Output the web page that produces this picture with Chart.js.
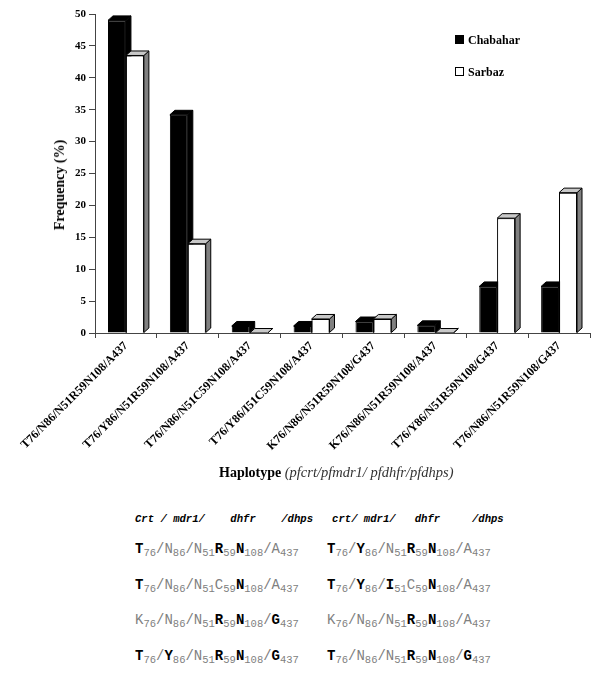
<!DOCTYPE html>
<html><head><meta charset="utf-8">
<script src="https://cdn.jsdelivr.net/npm/chart.js@4.4.0/dist/chart.umd.min.js"></script>
<style>
html,body{margin:0;padding:0;background:#fff;}
#wrap{position:relative;width:600px;height:676px;overflow:hidden;background:#fff;}
#c{position:absolute;left:0;top:0;}
#ytitle{position:absolute;left:60px;top:185px;transform:translate(-50%,-50%) rotate(-90deg);font:bold 14px "Liberation Serif",serif;white-space:nowrap;color:#000;}
.leg{position:absolute;left:455px;font:bold 12px "Liberation Serif",serif;color:#000;white-space:nowrap;}
.leg i{display:inline-block;width:7px;height:7px;border:1px solid #000;margin-right:4px;vertical-align:0px;}
#xtitle{position:absolute;left:219px;top:464px;font:14px "Liberation Serif",serif;white-space:nowrap;color:#000;}
#xtitle b{font-weight:bold;}
#xtitle i{font-style:italic;color:#333;font-size:14.5px;}
.hdr{position:absolute;left:135px;top:513px;font:italic bold 10.6px "Liberation Mono",monospace;white-space:pre;color:#000;}
.hap{position:absolute;font:14px "Liberation Mono",monospace;color:#808080;white-space:pre;line-height:16px;}
.hap b{color:#000;font-weight:bold;}
.hap sub{font-size:10.5px;vertical-align:-3px;line-height:0;}
</style></head><body>
<div id="wrap">
<canvas id="c" width="600" height="480"></canvas>
<div id="ytitle">Frequency (%)</div>
<div class="leg" style="top:33px"><i style="background:#000"></i>Chabahar</div>
<div class="leg" style="top:65px"><i style="background:#fff"></i>Sarbaz</div>
<div id="xtitle"><b>Haplotype</b> <i>(pfcrt/pfmdr1/ pfdhfr/pfdhps)</i></div>
<div class="hdr">Crt / mdr1/    dhfr    /dhps   crt/ mdr1/   dhfr     /dhps</div>
<div id="haps"></div>
</div>
<script>
const categories = [
  "T76/N86/N51R59N108/A437",
  "T76/Y86/N51R59N108/A437",
  "T76/N86/N51C59N108/A437",
  "T76/Y86/I51C59N108/A437",
  "K76/N86/N51R59N108/G437",
  "K76/N86/N51R59N108/A437",
  "T76/Y86/N51R59N108/G437",
  "T76/N86/N51R59N108/G437"
];
const chabahar = [49, 34.2, 1.1, 1.1, 1.8, 1.2, 7.3, 7.3];
const sarbaz   = [43.5, 14, 0, 2.2, 2.2, 0, 18, 22];
const yTicks = [0, 5, 10, 15, 20, 25, 30, 35, 40, 45, 50];

// haplotype key table: "*" marks a bold residue
const hapLeft  = ["*T76/N86/N51*R59*N108/A437", "*T76/N86/N51C59*N108/A437", "K76/N86/N51*R59*N108/*G437", "*T76/*Y86/N51*R59*N108/*G437"];
const hapRight = ["*T76/*Y86/N51*R59*N108/A437", "*T76/*Y86/*I51C59*N108/A437", "K76/N86/N51*R59*N108/A437", "*T76/N86/N51*R59*N108/*G437"];

function hapHTML(s){
  const re = /(\*?)([A-Z])(\d+)(\/?)/g; let m, out = "";
  while((m = re.exec(s))){
    const L = m[1] ? "<b>"+m[2]+"</b>" : m[2];
    out += L + "<sub>"+m[3]+"</sub>" + m[4];
  }
  return out;
}
const hapTops = [541, 577, 612, 648];
const hapsDiv = document.getElementById('haps');
hapTops.forEach((t,i)=>{
  hapsDiv.insertAdjacentHTML('beforeend', '<div class="hap" style="left:135px;top:'+t+'px">'+hapHTML(hapLeft[i])+'</div>');
  hapsDiv.insertAdjacentHTML('beforeend', '<div class="hap" style="left:327px;top:'+t+'px">'+hapHTML(hapRight[i])+'</div>');
});

// 3D look: depth faces per bar; the right-hand series bar is re-drawn with its own
// element.draw after the left bar's faces so the overlap is correct.
const depth3d = {
  id:'depth3d',
  afterDatasetsDraw(chart, args, opts){
    const ctx = chart.ctx, dx = 5, dy = 4.5;
    const n = chart.data.labels.length;
    const metas = chart.data.datasets.map((d,i)=>chart.getDatasetMeta(i));
    ctx.save();
    ctx.beginPath();
    ctx.rect(chart.chartArea.left, 0, chart.width, chart.chartArea.bottom);
    ctx.clip();
    for(let k=0;k<n;k++){
      metas.forEach((meta,di)=>{
        const bar = meta.data[k];
        if(di>0) bar.draw(ctx);
        const p = bar.getProps(['x','y','base','width'], true);
        const l = p.x - p.width/2, r = p.x + p.width/2, y = p.y, b = p.base;
        ctx.lineWidth = 1; ctx.strokeStyle = '#000'; ctx.lineJoin = 'round';
        ctx.beginPath(); ctx.moveTo(r,y); ctx.lineTo(r+dx,y-dy); ctx.lineTo(r+dx,b-dy); ctx.lineTo(r,b); ctx.closePath();
        ctx.fillStyle = opts.side[di]; ctx.fill(); ctx.stroke();
        ctx.beginPath(); ctx.moveTo(l,y); ctx.lineTo(l+dx,y-dy); ctx.lineTo(r+dx,y-dy); ctx.lineTo(r,y); ctx.closePath();
        ctx.fillStyle = opts.top[di]; ctx.fill(); ctx.stroke();
      });
    }
    ctx.restore();
  }
};

new Chart(document.getElementById('c'), {
  type:'bar',
  data:{
    labels: categories,
    datasets:[
      {label:'Chabahar', data: chabahar, backgroundColor:'#000', borderColor:'#000', borderWidth:1,
       categoryPercentage:0.58, barPercentage:1},
      {label:'Sarbaz', data: sarbaz, backgroundColor:'#fff', borderColor:'#000', borderWidth:1,
       categoryPercentage:0.58, barPercentage:1}
    ]
  },
  options:{
    responsive:false, animation:false,
    layout:{padding:{top:14,right:10,left:0,bottom:0}},
    plugins:{legend:{display:false}, tooltip:{enabled:false},
      depth3d:{top:['#000','#c8c8c8'], side:['#000','#808080']}},
    scales:{
      x:{
        grid:{drawOnChartArea:false, drawTicks:true, tickLength:5, color:'#444', offset:true},
        border:{color:'#444', width:1},
        ticks:{autoSkip:false, minRotation:45, maxRotation:45, color:'#000', padding:1,
          font:{family:'"Liberation Serif", serif', size:12, weight:'bold'}},
        afterFit(s){ s.height = 147; }
      },
      y:{
        min:0, max:50,
        afterBuildTicks(s){ s.ticks = yTicks.map(v=>({value:v})); },
        grid:{drawOnChartArea:false, drawTicks:true, tickLength:6, color:'#444'},
        border:{color:'#444', width:1},
        ticks:{color:'#000', padding:3, font:{family:'"Liberation Serif", serif', size:11, weight:'bold'}},
        afterFit(s){ s.width = 95; }
      }
    }
  },
  plugins:[depth3d]
});
</script>
</body></html>
